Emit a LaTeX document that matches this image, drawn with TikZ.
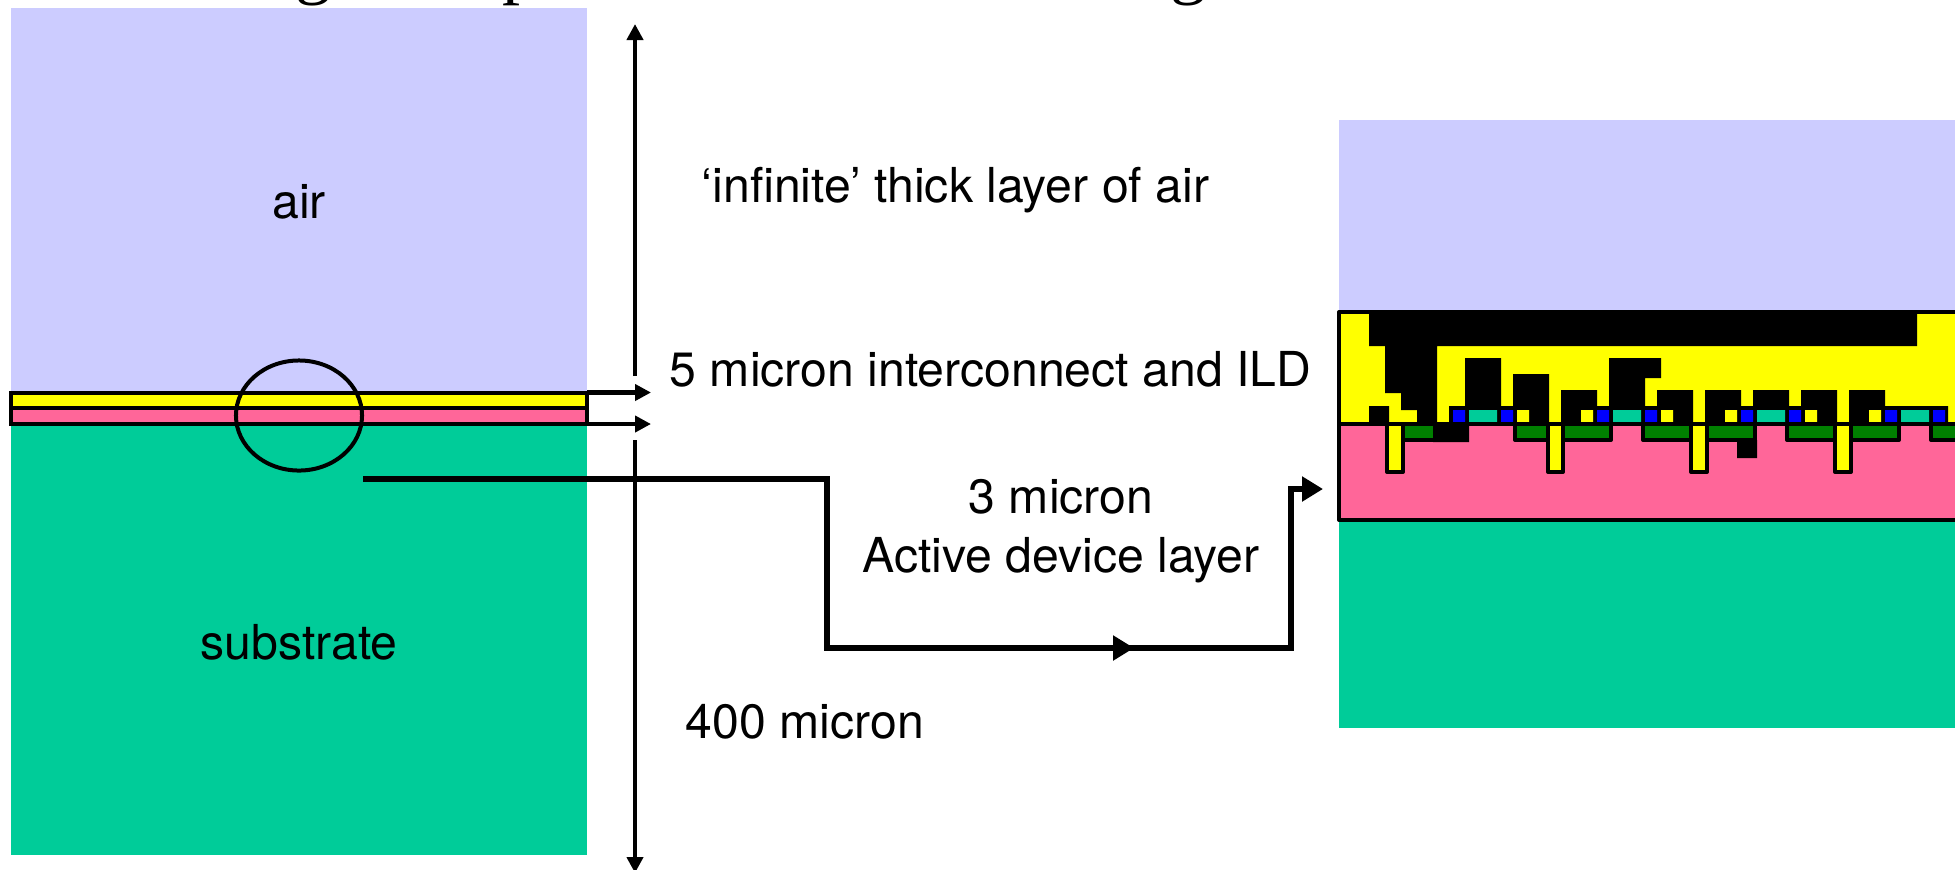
\documentclass[tikz,border=0pt]{standalone}
\usepackage{fontspec}
\setmainfont{TeX Gyre Heros}
\newfontfamily\headfont{Liberation Serif}
\usetikzlibrary{arrows.meta,shapes.geometric}
\definecolor{aircol}{HTML}{CCCCFF}
\definecolor{subcol}{HTML}{00CC99}
\definecolor{activecol}{HTML}{FF6699}
\definecolor{wellcol}{HTML}{008000}
\definecolor{ildcol}{HTML}{FFFF00}
\definecolor{polycol}{HTML}{0000FF}
\tikzset{
  lbl/.style = {font=\fontsize{13.7}{16.8}\selectfont, inner sep=0pt, align=center},
  head/.style = {font=\headfont\fontsize{20.5}{24}\selectfont, inner sep=0pt, anchor=base},
  outline/.style = {draw=black, line width=0.04cm, line join=round},
  thinline/.style = {draw=black, line width=0.043cm},
  thickline/.style = {draw=black, line width=0.068cm},
  smalltip/.style = {-{Triangle[length=0.16cm,width=0.16cm]}},
  bigtip/.style = {-{Triangle[length=0.21cm,width=0.24cm]}}
}
\begin{document}
\begin{tikzpicture}[x=0.01cm,y=-0.01cm]
  \useasboundingbox (0,0) rectangle (1955,869);

  \node[head] (headg1) at (314,-10) {g};
  \node[head] (headp) at (521,-10) {p};
  \node[head] (headg2) at (1189,-10) {g};

  \fill[aircol] (11,8) rectangle (587,393);
  \fill[subcol] (11,424) rectangle (587,855);
  \filldraw[fill=ildcol, thinline] (11,393) rectangle (587,408);
  \filldraw[fill=activecol, thinline] (11,408) rectangle (587,424);
  \node[draw, ellipse, line width=0.04cm, minimum width=1.26cm, minimum height=1.1cm, inner sep=0pt] (lens) at (299,415.5) {};

  \coordinate (axistop) at (635,24);
  \coordinate (axisgapa) at (635,376);
  \coordinate (axisgapb) at (635,440);
  \coordinate (axisbot) at (635,873);
  \draw[thinline, smalltip] (axisgapa)--(axistop);
  \draw[thinline, smalltip] (axisgapb)--(axisbot);

  \coordinate (ildstart) at (587,392.5);
  \coordinate (ildend) at (651,392.5);
  \coordinate (actstart) at (587,424);
  \coordinate (actend) at (651,424);
  \draw[thinline, smalltip] (ildstart)--(ildend);
  \draw[thinline, smalltip] (actstart)--(actend);

  \node[lbl] (airlbl) at (299,202) {air};
  \node[lbl] (sublbl) at (299,642) {substrate};
  \node[lbl] (inflbl) at (955.5,190) {‘infinite’ thick layer of air};
  \node[lbl] (ildlbl) at (990.5,369) {5 micron interconnect and ILD};
  \node[lbl] (actlbl) at (1061,531) {3 micron\\Active device layer};
  \node[lbl] (bulklbl) at (805,722) {400 micron};

  \coordinate (feedstart) at (363,479);
  \coordinate (feedbenda) at (827,479);
  \coordinate (feedbendb) at (827,648);
  \coordinate (feedmid) at (1134,648);
  \coordinate (feedjoin) at (1120,648);
  \coordinate (feedbendc) at (1291,648);
  \coordinate (feedbendd) at (1291,489);
  \coordinate (feedend) at (1323,489);
  \draw[thickline, bigtip] (feedstart)--(feedbenda)--(feedbendb)--(feedmid);
  \draw[thickline, bigtip] (feedjoin)--(feedbendc)--(feedbendd)--(feedend);

  \fill[aircol] (1339,120) rectangle (1955,312);
  \fill[subcol] (1339,520) rectangle (1955,728);
  \fill[ildcol] (1339,312) rectangle (1960,424);
  \fill[activecol] (1339,424) rectangle (1960,520);

  \filldraw[fill=wellcol, outline] (1403,424) rectangle (1435,440)
        (1515,424) rectangle (1611,440)
        (1643,424) rectangle (1755,440)
        (1787,424) rectangle (1899,440)
        (1931,424) rectangle (1965,440);

  \fill[black] (1369,312)--(1917,312)--(1917,346)--(1437,346)--(1437,424)--(1417,424)
        --(1417,410)--(1401,410)--(1401,393)--(1385,393)--(1385,346)--(1369,346)--cycle;
  \fill[black] (1369,406) rectangle (1389,424)
        (1433,424) rectangle (1469,442)
        (1737,440) rectangle (1757,458)
        (1449,406) rectangle (1549,424)
        (1561,406) rectangle (1693,424)
        (1705,406) rectangle (1837,424)
        (1849,406) rectangle (1948,424)
        (1465,358) rectangle (1501,406)
        (1513,374) rectangle (1549,406)
        (1561,390) rectangle (1597,406)
        (1609,358) rectangle (1645,406)
        (1609,358) rectangle (1661,378)
        (1657,390) rectangle (1693,406)
        (1705,390) rectangle (1741,406)
        (1753,390) rectangle (1789,406)
        (1801,390) rectangle (1837,406)
        (1849,390) rectangle (1885,406);

  \fill[polycol] (1453,410) rectangle (1465,422)
        (1501,410) rectangle (1513,422)
        (1597,410) rectangle (1609,422)
        (1645,410) rectangle (1657,422)
        (1741,410) rectangle (1753,422)
        (1789,410) rectangle (1801,422)
        (1885,410) rectangle (1897,422)
        (1933,410) rectangle (1945,422);
  \fill[subcol] (1469,410) rectangle (1497,422)
        (1613,410) rectangle (1641,422)
        (1757,410) rectangle (1785,422)
        (1901,410) rectangle (1929,422);
  \fill[ildcol] (1517,410) rectangle (1529,422)
        (1581,410) rectangle (1593,422)
        (1661,410) rectangle (1673,422)
        (1725,410) rectangle (1737,422)
        (1805,410) rectangle (1817,422)
        (1869,410) rectangle (1881,422);

  \filldraw[fill=ildcol, outline] (1387,424) rectangle (1403,472)
        (1548,424) rectangle (1563,472)
        (1691,424) rectangle (1707,472)
        (1835,424) rectangle (1851,472);

  \draw[outline] (1960,312)--(1339,312)--(1339,520)--(1960,520)
        (1339,424)--(1960,424);
\end{tikzpicture}
\end{document}
